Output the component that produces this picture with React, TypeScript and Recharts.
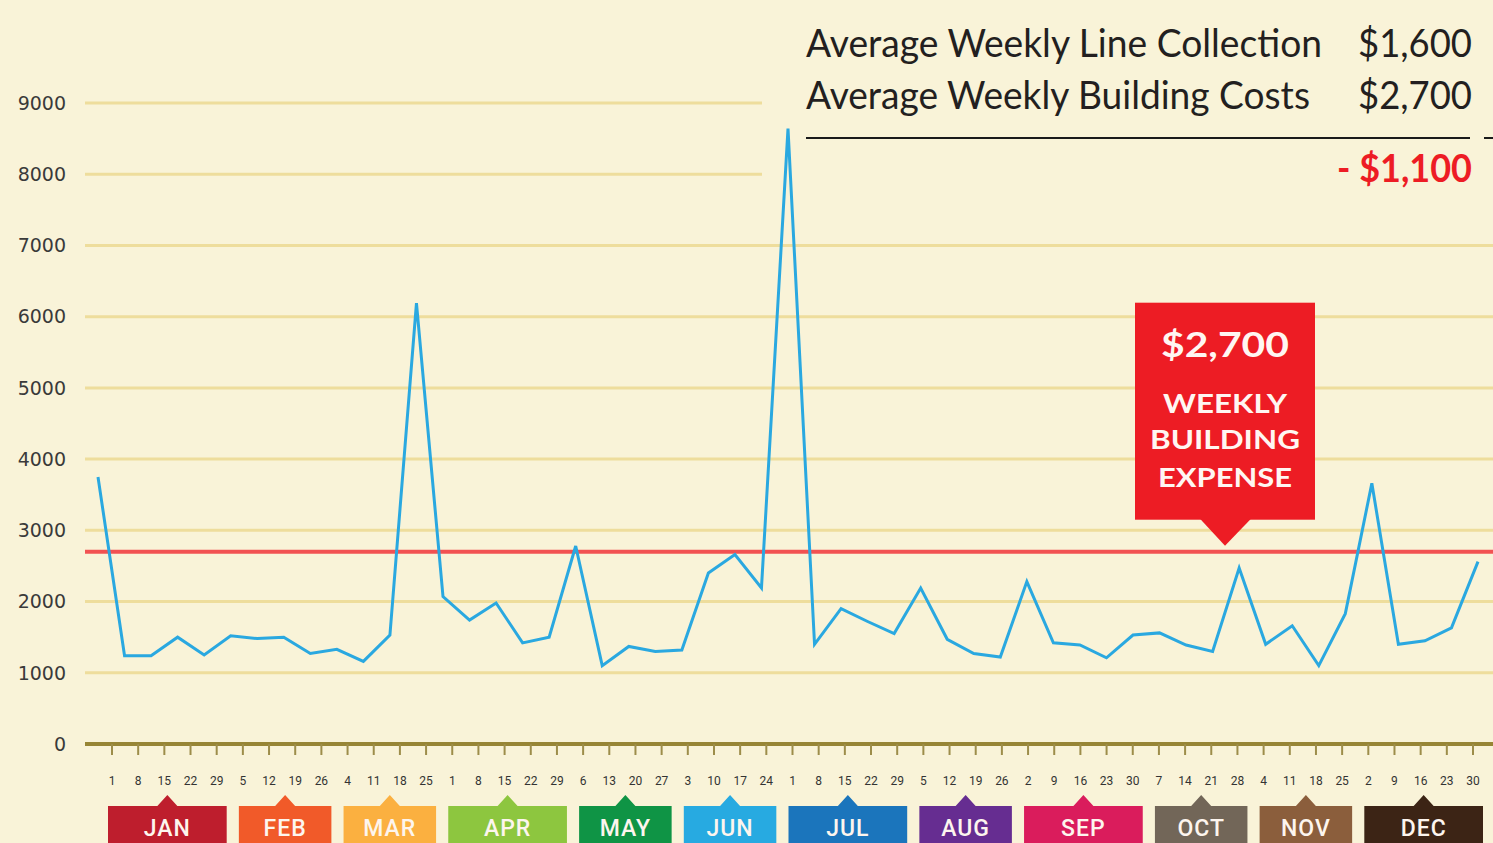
import React from 'react';
import { LineChart, Line, XAxis, YAxis, ReferenceLine } from 'recharts';

// week-ending days shown under the axis, Jan → Dec
const weekDays = [
  '1', '8', '15', '22', '29',
  '5', '12', '19', '26',
  '4', '11', '18', '25',
  '1', '8', '15', '22', '29',
  '6', '13', '20', '27',
  '3', '10', '17', '24',
  '1', '8', '15', '22', '29',
  '5', '12', '19', '26',
  '2', '9', '16', '23', '30',
  '7', '14', '21', '28',
  '4', '11', '18', '25',
  '2', '9', '16', '23', '30',
];

const monthNames = ['JAN', 'FEB', 'MAR', 'APR', 'MAY', 'JUN', 'JUL', 'AUG', 'SEP', 'OCT', 'NOV', 'DEC'];
const weeksPerMonth = [5, 4, 4, 5, 4, 4, 5, 4, 5, 4, 4, 5];
const monthColors = [
  '#be1e2d', '#f15a29', '#fbb040', '#8dc63f', '#0f9445', '#27aae1',
  '#1b75bc', '#662d91', '#da1c5c', '#726658', '#8b5e3c', '#3c2415',
];

// weekly line collection ($)
const lineCollection = [
  3750, 1240, 1240, 1500, 1250,
  1520, 1480, 1500, 1270,
  1330, 1160, 1530, 6190,
  2070, 1740, 1980, 1420, 1500,
  2780, 1100, 1370, 1300,
  1320, 2400, 2660, 2190,
  8640, 1400, 1900, 1720, 1550,
  2190, 1470, 1270, 1220,
  2280, 1420, 1390, 1210, 1530,
  1560, 1390, 1300, 2470,
  1400, 1660, 1100, 1830,
  3660, 1400, 1450, 1630, 2560,
];

const yTicks = [0, 1000, 2000, 3000, 4000, 5000, 6000, 7000, 8000, 9000];
const buildingCost = 2700;
const avgCollection = '$1,600';
const avgCost = '$2,700';
const weeklyGap = '- $1,100';

const W = 1493;
const H = 843;
const Y_AXIS_W = 85;
const TICK_PAD = { left: 27, right: 20 };
const LINE_PAD = { left: 13, right: 15 };
const STEP = (W - Y_AXIS_W - TICK_PAD.left - TICK_PAD.right) / (weekDays.length - 1);
const GRID_CUT_X = 762;
const BG = '#f9f3d8';

const monthStart: Record<number, number> = {};
{
  let i = 0;
  weeksPerMonth.forEach((n, m) => {
    monthStart[i] = m;
    i += n;
  });
}

const rows = lineCollection.map((amount, i) => ({ week: i, day: weekDays[i], amount }));

function WeekTick(props: any) {
  const { x, index } = props;
  const base = 744;
  const m = monthStart[index];
  let box = null;
  if (m !== undefined) {
    const x0 = x - 4;
    const x1 = x + (weeksPerMonth[m] - 1) * STEP + 10;
    const cx = (x0 + x1) / 2;
    box = (
      <g>
        <path
          d={`M${x0},${base + 62} L${cx - 10},${base + 62} L${cx},${base + 51} L${cx + 10},${base + 62} L${x1},${base + 62} L${x1},${H + 5} L${x0},${H + 5} Z`}
          fill={monthColors[m]}
        />
        <text
          x={cx}
          y={base + 92}
          textAnchor="middle"
          fontFamily="Roboto, sans-serif"
          fontWeight={500}
          fontSize={23}
          letterSpacing={1}
          fill="#fdf5ee"
        >
          {monthNames[m]}
        </text>
      </g>
    );
  }
  return (
    <g>
      <text
        x={x}
        y={base + 41}
        textAnchor="middle"
        fontFamily="Roboto, sans-serif"
        fontSize={12}
        fill="#333"
      >
        {weekDays[index]}
      </text>
      {box}
    </g>
  );
}

const gridLine = (cut: boolean) => (p: any) => (
  <line x1={p.x1} y1={p.y1} x2={cut ? GRID_CUT_X : p.x2} y2={p.y2} stroke="#eedd9c" strokeWidth={3} />
);

function Callout(props: any) {
  const { viewBox } = props;
  const ly = viewBox.y;
  const cx = 1225;
  const top = ly - 249;
  const bottom = ly - 32;
  const white = '#fff6f2';
  const font = 'Lato, sans-serif';
  return (
    <g>
      <rect x={cx - 90} y={top} width={180} height={bottom - top} fill="#ed1c24" />
      <path d={`M${cx - 25},${bottom - 1} L${cx + 26},${bottom - 1} L${cx},${ly - 6} Z`} fill="#ed1c24" />
      <text x={cx} y={ly - 195} textAnchor="middle" fontFamily={font} fontWeight={700} fontSize={35}
        fill={white} textLength={128} lengthAdjust="spacingAndGlyphs">{avgCost}</text>
      <text x={cx} y={ly - 139} textAnchor="middle" fontFamily={font} fontWeight={700} fontSize={26}
        fill={white} textLength={124} lengthAdjust="spacingAndGlyphs">WEEKLY</text>
      <text x={cx} y={ly - 103} textAnchor="middle" fontFamily={font} fontWeight={700} fontSize={26}
        fill={white} textLength={150} lengthAdjust="spacingAndGlyphs">BUILDING</text>
      <text x={cx} y={ly - 65} textAnchor="middle" fontFamily={font} fontWeight={700} fontSize={26}
        fill={white} textLength={134} lengthAdjust="spacingAndGlyphs">EXPENSE</text>
    </g>
  );
}

function Summary() {
  const font = 'Lato, sans-serif';
  return (
    <svg width={W} height={200} style={{ position: 'absolute', left: 0, top: 0, pointerEvents: 'none' }}>
      <text x={806} y={57} fontFamily={font} fontSize={38} fill="#231f20"
        textLength={516} lengthAdjust="spacingAndGlyphs">Average Weekly Line Collection</text>
      <text x={1472} y={57} textAnchor="end" fontFamily={font} fontSize={38} fill="#231f20"
        textLength={114} lengthAdjust="spacingAndGlyphs">{avgCollection}</text>
      <text x={806} y={109} fontFamily={font} fontSize={38} fill="#231f20"
        textLength={504} lengthAdjust="spacingAndGlyphs">Average Weekly Building Costs</text>
      <text x={1472} y={109} textAnchor="end" fontFamily={font} fontSize={38} fill="#231f20"
        textLength={114} lengthAdjust="spacingAndGlyphs">{avgCost}</text>
      <line x1={806} x2={1470} y1={138} y2={138} stroke="#1a1a1a" strokeWidth={2} />
      <line x1={1484} x2={1493} y1={138} y2={138} stroke="#1a1a1a" strokeWidth={2} />
      <text x={1472} y={182} textAnchor="end" fontFamily={font} fontWeight={700} fontSize={38} fill="#ed1c24"
        textLength={135} lengthAdjust="spacingAndGlyphs">{weeklyGap}</text>
    </svg>
  );
}

export default function App() {
  return (
    <div style={{ position: 'absolute', left: 0, top: 0, width: W, height: H, background: BG, overflow: 'hidden' }}>
      <LineChart width={W} height={H} data={rows} margin={{ top: 103, right: 0, bottom: 0, left: 0 }}>
        <YAxis
          width={Y_AXIS_W}
          domain={[0, 9000]}
          ticks={yTicks}
          axisLine={false}
          tickLine={false}
          tickSize={0}
          tickMargin={19}
          tick={{ fontFamily: 'DejaVu Sans, sans-serif', fontSize: 19, fill: '#3a3a3a' }}
        />
        <XAxis xAxisId="line" dataKey="week" hide height={0} padding={LINE_PAD} />
        <XAxis
          xAxisId="weeks"
          dataKey="week"
          interval={0}
          height={H - 744}
          padding={TICK_PAD}
          axisLine={{ stroke: '#978535', strokeWidth: 4 }}
          tickLine={{ stroke: '#9d8d4a', strokeWidth: 2 }}
          tickSize={11}
          tickMargin={2}
          tick={<WeekTick />}
        />
        {yTicks.filter((v) => v > 0).map((v) => (
          <ReferenceLine key={v} xAxisId="line" y={v} shape={gridLine(v >= 8000)} />
        ))}
        <ReferenceLine
          xAxisId="line"
          y={buildingCost}
          stroke="#f25252"
          strokeWidth={4}
          label={<Callout />}
        />
        <Line
          xAxisId="line"
          type="linear"
          dataKey="amount"
          stroke="#2aa8e0"
          strokeWidth={3}
          dot={false}
          activeDot={false}
          isAnimationActive={false}
        />
      </LineChart>
      <Summary />
    </div>
  );
}
